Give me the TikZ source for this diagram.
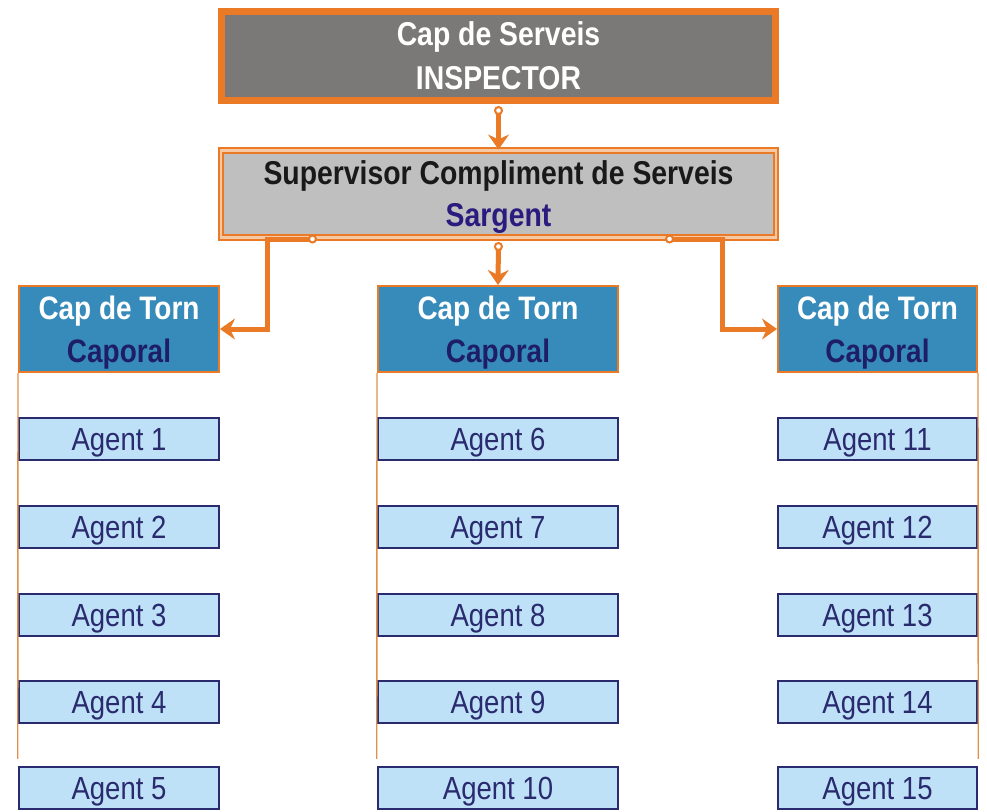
\documentclass[tikz,border=0pt]{standalone}
\usepackage{fontspec}
\setmainfont{Liberation Sans}[FakeStretch=0.86]
\usetikzlibrary{arrows.meta}
\definecolor{orng}{HTML}{EB7A26}
\definecolor{topgray}{HTML}{7B7977}
\definecolor{sarggray}{HTML}{BFBFBF}
\definecolor{peach}{HTML}{F6C9A6}
\definecolor{capblue}{HTML}{378BBA}
\definecolor{navy}{HTML}{1E1E66}
\definecolor{sargblue}{HTML}{2B1B7F}
\definecolor{agfill}{HTML}{BEE1F7}
\definecolor{agline}{HTML}{2A2A6E}
\definecolor{vline}{HTML}{E0904A}
\begin{document}
\begin{tikzpicture}[x=1pt,y=-1pt,
  topbox/.style={draw=orng, line width=7pt, fill=topgray, minimum width=554pt, minimum height=89pt,
    inner sep=0pt, align=center, text=white, text depth=0pt, font=\fontsize{33}{44}\selectfont\bfseries},
  sargbox/.style={draw=orng, line width=2pt, double=peach, double distance=2.5pt, fill=sarggray,
    minimum width=555pt, minimum height=87pt, inner sep=0pt, align=center, text depth=0pt,
    font=\fontsize{33}{42}\selectfont\bfseries},
  capbox/.style={draw=orng, line width=2pt, fill=capblue, minimum height=86pt, inner sep=0pt,
    align=center, text=white, text depth=0pt, font=\fontsize{32.5}{43}\selectfont\bfseries},
  agbox/.style={draw=agline, line width=2.5pt, fill=agfill, minimum height=42pt, inner sep=0pt,
    text=agline, text depth=0pt, font=\fontsize{32}{40}\selectfont},
  conn/.style={draw=orng, line width=5pt,
    {Circle[length=9pt,width=9pt,fill=white,line width=2pt]}-{Stealth[length=15pt,width=21pt,inset=5pt]}},
  colline/.style={draw=vline, line width=1.4pt, shorten >=7pt}
]
\useasboundingbox (0,0) rectangle (987,811);
\node[topbox] (top) at (498.5,56) {Cap de Serveis\\INSPECTOR};
\node[sargbox] (sarg) at (498.5,194) {\textcolor{black!90}{Supervisor Compliment de Serveis}\\\textcolor{sargblue}{Sargent}};

\node[capbox, minimum width=200pt] (capL) at (119,329) {Cap de Torn\\\textcolor{navy}{Caporal}};
\node[capbox, minimum width=240pt] (capM) at (498,329) {Cap de Torn\\\textcolor{navy}{Caporal}};
\node[capbox, minimum width=199pt] (capR) at (877.5,329) {Cap de Torn\\\textcolor{navy}{Caporal}};

\foreach \i/\y in {1/439,2/527,3/615,4/702,5/788}{
  \node[agbox, minimum width=200pt] (aL\i) at (119,\y) {Agent \i};
}
\foreach \i/\y in {6/439,7/527,8/615,9/702,10/788}{
  \node[agbox, minimum width=240pt] (aM\i) at (498,\y) {Agent \i};
}
\foreach \i/\y in {11/439,12/527,13/615,14/702,15/788}{
  \node[agbox, minimum width=199pt] (aR\i) at (877.5,\y) {Agent \i};
}

\draw[colline] (capL.south west) -- (aL5.north west);
\draw[colline] (capM.south west) -- (aM10.north west);
\draw[colline] (capR.south east) -- (aR15.north east);

\coordinate (sL) at (317,239);
\coordinate (sR) at (665,239);
\coordinate (tS) at (498.5,106);
\coordinate (mS) at (498.5,242);
\draw[conn] (tS) -- (sarg.north);
\draw[conn] (mS) -- (capM.north);
\draw[conn] (sL) -- ++(-50,0) |- (capL.east);
\draw[conn] (sR) -- ++(57,0) |- (capR.west);
\end{tikzpicture}
\end{document}
